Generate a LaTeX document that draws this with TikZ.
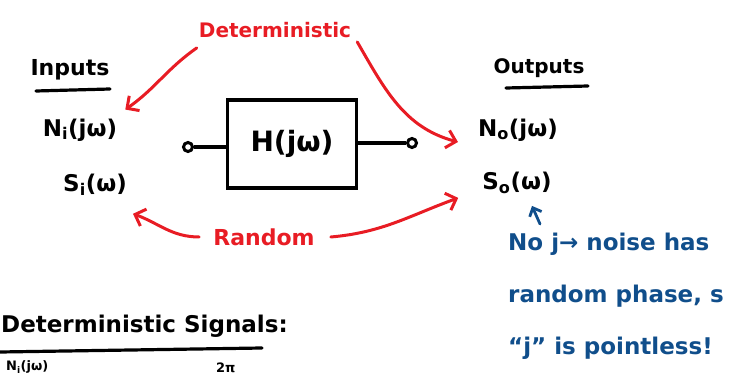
\documentclass[tikz,border=0pt]{standalone}
\usepackage{fontspec}
\setmainfont{DejaVu Sans}
\usetikzlibrary{arrows.meta}
\definecolor{pred}{RGB}{232,28,36}
\definecolor{pblue}{RGB}{16,78,139}
\begin{document}
\begin{tikzpicture}[x=1pt,y=-1pt,
  lbl/.style={font=\bfseries\fontsize{22}{24}\selectfont, inner sep=0pt},
  redlbl/.style={font=\bfseries\fontsize{20}{24}\selectfont, text=pred, inner sep=0pt},
  ul/.style={line width=3.2pt, line cap=round},
  ra/.style={draw=pred, line width=3pt, line cap=round, -{Straight Barb[length=9pt,width=18pt,line width=3pt]}},
  ba/.style={draw=pblue, line width=2.8pt, line cap=round, -{Straight Barb[length=7pt,width=13pt,line width=2.8pt]}},
  term/.style={circle, draw, line width=3pt, minimum size=9pt, inner sep=0pt},
  wire/.style={line width=3.2pt},
  bluetxt/.style={font=\bfseries\fontsize{23}{52}\selectfont, text=pblue, align=left, inner sep=0pt},
]
\useasboundingbox (0,0) rectangle (740,377);
\clip (0,0) rectangle (740,377);

% top red label
\node[redlbl] (det) at (275,30) {Deterministic};

% inputs
\node[lbl] (inp) at (70,70) {Inputs};
\draw[ul] (36,91) -- (110,89);
\node[lbl, font=\bfseries\fontsize{23}{24}\selectfont] (ni) at (80,130) {N\textsubscript{i}(jω)};
\node[lbl, font=\bfseries\fontsize{23}{24}\selectfont] (si) at (95,185) {S\textsubscript{i}(ω)};

% outputs
\node[lbl, font=\bfseries\fontsize{20}{24}\selectfont] (outp) at (539,68) {Outputs};
\draw[ul] (506,88) -- (588,86);
\node[lbl, font=\bfseries\fontsize{23}{24}\selectfont] (no) at (518,130) {N\textsubscript{o}(jω)};
\node[lbl, font=\bfseries\fontsize{23}{24}\selectfont] (so) at (517,183) {S\textsubscript{o}(ω)};

% system block
\node[draw, line width=3.4pt, minimum width=129pt, minimum height=88pt, inner sep=0pt,
      font=\bfseries\fontsize{28}{30}\selectfont] (h) at (292,144) {H(jω)};
\node[term] (ci) at (188,147) {};
\node[term] (co) at (412,143) {};
\draw[wire] (ci) -- (ci -| h.west);
\draw[wire] (co -| h.east) -- (co);

% random label
\node[redlbl, font=\bfseries\fontsize{22}{24}\selectfont] (rnd) at (264,237) {Random};

% red arrows
\draw[ra] ([shift={(-2pt,-10pt)}]det.south west) to[out=215, in=35] ([shift={(8pt,9pt)}]ni.north east);
\draw[ra] ([shift={(6pt,-4pt)}]det.south east) to[out=-60, in=165] ([shift={(-20pt,-12pt)}]no.west);
\draw[ra] ([xshift=-14pt]rnd.west) to[out=180, in=-20] ([shift={(6pt,-18pt)}]si.south east);
\draw[ra] ([xshift=16pt]rnd.east) to[out=5, in=200] ([shift={(-24pt,-4pt)}]so.south west);

% blue note
\coordinate (cb) at (540,224);
\draw[ba] (cb) -- ([shift={(15pt,-12pt)}]so.south);
\node[bluetxt, anchor=north west] (note) at (508,233) {No j→ noise has\\random phase, s\\“j” is pointless!};

% bottom section
\node[lbl, font=\bfseries\fontsize{23}{26}\selectfont, anchor=west] (ds) at (1,326) {Deterministic Signals:};
\draw[ul] (0,352) -- (262,348);
\node[lbl, font=\bfseries\fontsize{13}{14}\selectfont, anchor=south west] (nb) at (6,374) {N\textsubscript{i}(jω)};
\node[lbl, font=\bfseries\fontsize{13}{14}\selectfont, anchor=south west] (tp) at (216,373) {2π};
\end{tikzpicture}
\end{document}
